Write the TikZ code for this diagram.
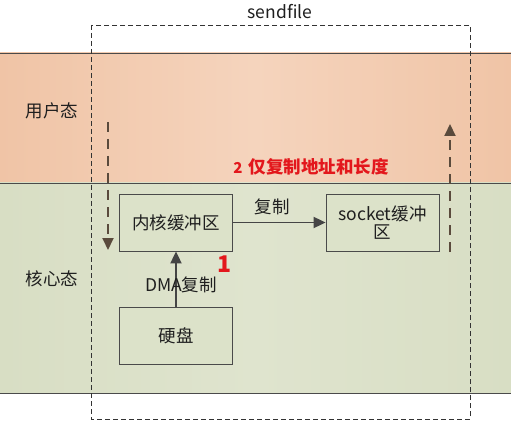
\documentclass[tikz,border=0pt]{standalone}
\usepackage{fontspec}
\setmainfont{Noto Sans CJK SC}
\usetikzlibrary{arrows.meta}
\definecolor{bandorange}{HTML}{F0C4A6}
\definecolor{bandorangemid}{HTML}{F5D4BD}
\definecolor{bandgreen}{HTML}{D8DEC4}
\definecolor{bandgreenmid}{HTML}{DFE4CE}
\definecolor{boxfill}{HTML}{DCE2C9}
\definecolor{edgegray}{HTML}{4A4A4A}
\definecolor{arrowgray}{HTML}{454545}
\definecolor{dasharrow}{HTML}{5A4A3C}
\definecolor{notered}{HTML}{E3171C}
\tikzset{
  lbl/.style={font=\fontsize{17.5}{20}\selectfont, text=black!88},
  buf/.style={draw=edgegray, line width=0.8pt, fill=boxfill, minimum width=113pt, minimum height=57pt, inner sep=2pt, align=center, font=\fontsize{17.5}{21}\selectfont, text=black!88},
  solidarrow/.style={draw=arrowgray, line width=1.8pt, -{Triangle[length=12pt,width=11pt]}},
  dasharr/.style={draw=dasharrow, line width=2pt, dash pattern=on 10pt off 7pt, -{Triangle[length=12pt,width=11pt]}},
  rednote/.style={font=\fontsize{17.5}{20}\selectfont\bfseries, text=notered},
}
\begin{document}
\begin{tikzpicture}[x=1pt,y=-1pt]
\useasboundingbox (0,0) rectangle (511,422);
\fill[white] (0,0) rectangle (511,422);
% bands
\shade[left color=bandorange, right color=bandorange, middle color=bandorangemid] (0,53) rectangle (511,183);
\shade[left color=bandgreen, right color=bandgreen, middle color=bandgreenmid] (0,183) rectangle (511,393);
\draw[edgegray, line width=0.8pt] (0,53) -- (511,53);
\draw[edgegray, line width=0.8pt] (0,183) -- (511,183);
\draw[edgegray, line width=0.8pt] (0,393) -- (511,393);
% sendfile dashed frame
\draw[black!80, line width=0.7pt, dash pattern=on 5pt off 3pt] (91,25) rectangle (470,419);
\node[lbl] (sf) at (280,12) {sendfile};
\node[lbl] (user) at (52,111) {用户态};
\node[lbl] (kern) at (52,279) {核心态};
% boxes
\node[buf] (kbuf) at (176,222.5) {内核缓冲区};
\node[buf] (sbuf) at (382.5,222.5) {socket缓冲\\[-3pt]区};
\node[buf] (disk) at (176,336) {硬盘};
% arrows
\draw[solidarrow] (disk.north) -- (kbuf.south);
\node[lbl] (dma) at (181,285) {DMA复制};
\draw[solidarrow] (kbuf.east) -- (sbuf.west);
\node[lbl] (copy) at (272,207) {复制};
\coordinate (ls) at (108,122);
\coordinate (le) at (108,250);
\coordinate (rs) at (450,252);
\coordinate (re) at (450,124);
\draw[dasharr] (ls) -- (le);
\draw[dasharr] (rs) -- (re);
% red notes
\node[rednote] (note2) at (311,167) {{\fontsize{15}{18}\selectfont 2}\hspace{6pt}仅复制地址和长度};
\node[rednote, font=\fontsize{23}{25}\selectfont\bfseries] (note1) at (224,264) {1};
\end{tikzpicture}
\end{document}
